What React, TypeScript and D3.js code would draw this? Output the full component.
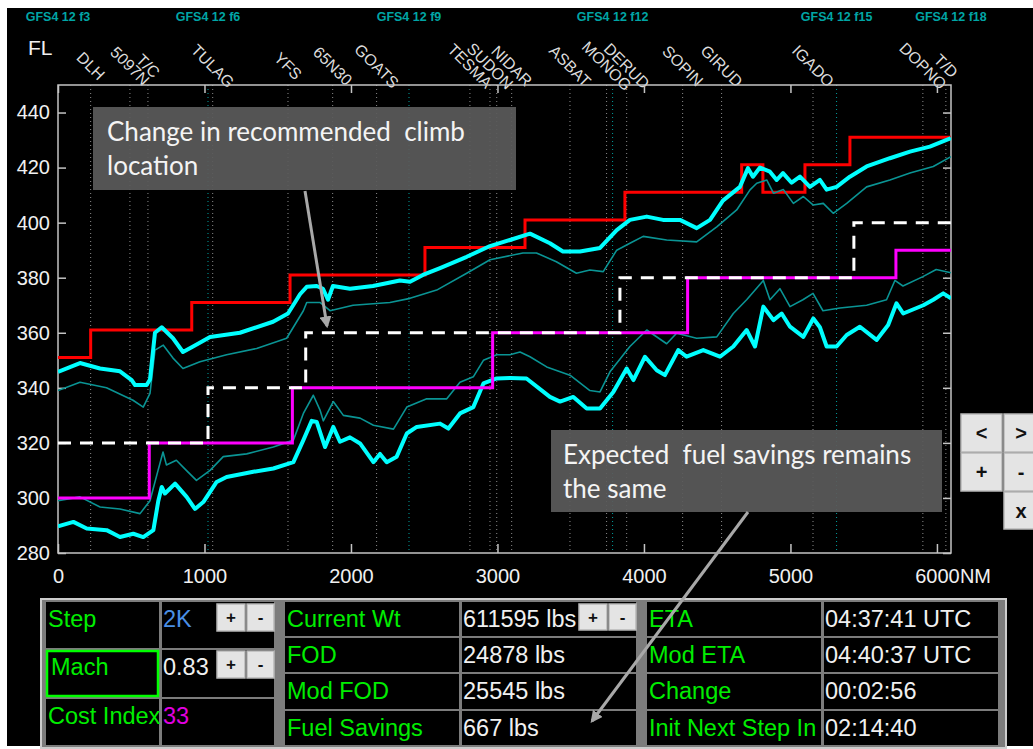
import React, { useEffect, useRef } from 'react';
import * as d3 from 'd3';

// distance along route (NM) / flight level pairs
const upperBand: [number, number][] = [
  [0, 345.8], [150, 349], [287, 347], [423, 346], [503, 342.8], [526, 341], [605, 341], [628, 343],
  [662, 360], [708, 362], [785, 358], [853, 353], [922, 355], [1038, 358.5], [1242, 360], [1468, 364],
  [1570, 367], [1629, 372], [1652, 374], [1698, 376.7], [1766, 377], [1809, 376], [1843, 372], [1877, 377],
  [1993, 376], [2150, 377], [2334, 379], [2403, 378.5], [2491, 381], [2608, 383.5], [2790, 387.6],
  [2949, 391.5], [3085, 393.7], [3222, 396], [3358, 392.5], [3447, 389.5], [3563, 389.5], [3700, 390.8],
  [3814, 397.3], [3904, 401], [4019, 402.2], [4130, 401], [4246, 401], [4360, 398], [4451, 401],
  [4539, 408], [4655, 413], [4710, 419.8], [4744, 416.7], [4792, 420], [4860, 418.5], [4906, 415.5],
  [4949, 418], [5008, 414.5], [5065, 416.7], [5133, 413], [5201, 415.5], [5247, 412], [5315, 413],
  [5406, 416.7], [5520, 420.4], [5679, 423.4], [5816, 425.8], [5952, 427.6], [6096, 430.7],
];

const upperThin: [number, number][] = [
  [0, 339], [150, 342], [331, 340], [512, 335.5], [582, 333], [628, 338], [662, 353.7], [719, 355.5],
  [785, 350.8], [853, 347], [969, 349.5], [1151, 352], [1356, 354.3], [1561, 358], [1675, 368],
  [1698, 371], [1788, 371], [1857, 368], [2014, 370], [2266, 371], [2403, 372.5], [2585, 375.5],
  [2790, 381.6], [2949, 386.5], [3174, 389], [3266, 389], [3402, 385.8], [3539, 381.6], [3631, 382.8],
  [3722, 382.2], [3814, 390], [3904, 392.5], [3995, 395], [4155, 393.7], [4360, 393], [4497, 398.5],
  [4633, 404.6], [4724, 411.9], [4770, 414.3], [4838, 415.5], [4884, 410.7], [4952, 412], [5020, 407],
  [5088, 409.5], [5156, 406.4], [5224, 407], [5292, 403.4], [5384, 407], [5520, 413], [5679, 415.5],
  [5816, 418], [5975, 420.4], [6096, 424],
];

const lowerThin: [number, number][] = [
  [0, 299], [150, 300.4], [287, 296.7], [423, 296], [560, 294.3], [628, 299], [683, 310], [717, 316.7],
  [740, 312], [808, 313.7], [876, 310], [945, 306.4], [1038, 310], [1128, 315], [1288, 316], [1470, 318.5],
  [1607, 321], [1675, 330.7], [1743, 337.3], [1788, 332], [1811, 328], [1879, 335], [1948, 330],
  [2062, 329], [2153, 326.4], [2290, 325], [2381, 333], [2517, 336], [2654, 336], [2744, 342],
  [2835, 344], [2904, 350], [2995, 352], [3085, 352], [3154, 353], [3222, 351.3], [3336, 347.6],
  [3495, 344.6], [3631, 339], [3700, 338.5], [3768, 345.8], [3904, 355], [4019, 361], [4155, 356],
  [4223, 359.8], [4360, 358], [4497, 358.5], [4610, 367], [4701, 372], [4815, 379], [4860, 372],
  [4928, 376], [4997, 369.5], [5085, 372], [5154, 374.3], [5222, 368], [5338, 369], [5520, 370],
  [5656, 372], [5713, 379], [5768, 377], [5904, 380.4], [5995, 383], [6096, 381.8],
];

const lowerBand: [number, number][] = [
  [0, 289.7], [105, 291.3], [196, 288.9], [332, 288.3], [423, 285.8], [514, 287], [582, 285.8],
  [651, 288.3], [685, 299], [708, 304], [730, 301.6], [799, 305.2], [878, 300.4], [935, 296],
  [992, 298.5], [1083, 305.8], [1151, 307.6], [1333, 309.5], [1470, 310.7], [1607, 313], [1675, 321],
  [1732, 328], [1766, 327.6], [1823, 318.5], [1879, 325.8], [1925, 320.4], [1993, 322], [2062, 319.8],
  [2153, 313], [2198, 316], [2244, 313], [2312, 315], [2381, 323.4], [2449, 325.8], [2608, 327],
  [2665, 325.2], [2744, 330.7], [2835, 333], [2904, 341.6], [2995, 343.4], [3085, 343.6], [3198, 343.4],
  [3358, 336.7], [3427, 335], [3518, 336.7], [3609, 332.5], [3700, 332.5], [3791, 338.5], [3882, 347],
  [3928, 342.8], [4007, 351.3], [4087, 346.4], [4143, 344.6], [4234, 353.7], [4291, 351.3], [4405, 353.7],
  [4519, 351.3], [4610, 355], [4701, 361], [4758, 355], [4815, 369.5], [4884, 364.6], [4940, 367],
  [4997, 362.2], [5088, 358.5], [5156, 365.2], [5201, 362], [5247, 355], [5315, 355], [5384, 359.2],
  [5474, 362.2], [5588, 357.4], [5667, 362.8], [5724, 370.7], [5770, 367], [5907, 370], [5975, 372],
  [6043, 374.3], [6096, 372.5],
];

const maxAltitude: [number, number][] = [
  [0, 351], [223, 361], [913, 371], [1584, 381], [2505, 391], [3188, 401], [3870, 411],
  [4667, 421], [4812, 411], [5099, 421], [5406, 431], [6096, 431],
];
const newProfile: [number, number][] = [
  [0, 320], [1024, 340], [1691, 360], [3836, 380], [5433, 400], [6096, 400],
];
const oldProfile: [number, number][] = [
  [0, 300], [623, 320], [1600, 340], [2967, 360], [4298, 380], [5720, 390], [6096, 390],
];

const waypointNames = ['DLH', '5097N', 'T/C', 'TULAG', 'YFS', '65N30', 'GOATS', 'TESMA', 'SUDON', '', 'NIDAR',
  'ASBAT', 'MONOG', 'DERUD', 'SOPIN', 'GIRUD', 'IGADO', 'DOPNO', 'T/D'];
const waypointNm = [223, 491, 614, 1056, 1570, 1875, 2175, 2812, 2949, 2995, 3097,
  3495, 3745, 3882, 4264, 4530, 5154, 5904, 6061];

const forecastLabels = ['GFS4 12 f3', 'GFS4 12 f6', 'GFS4 12 f9', 'GFS4 12 f12', 'GFS4 12 f15', 'GFS4 12 f18'];
const forecastNm = [0, 1024, 2396, 3786, 5315, 6096];

const xTicks = [0, 1000, 2000, 3000, 4000, 5000, 6000];
const yTicks = [280, 300, 320, 340, 360, 380, 400, 420, 440];

const stepLabels = ['Step', 'Mach', 'Cost Index'];
const stepValues = ['2K', '0.83', '33'];
const stepColors = ['#4a8fe6', '#f0f0f0', '#e000e0'];
const fuelLabels = ['Current Wt', 'FOD', 'Mod FOD', 'Fuel Savings'];
const fuelValues = ['611595 lbs', '24878 lbs', '25545 lbs', '667 lbs'];
const timeLabels = ['ETA', 'Mod ETA', 'Change', 'Init Next Step In'];
const timeValues = ['04:37:41 UTC', '04:40:37 UTC', '00:02:56', '02:14:40'];

const SANS = '"Liberation Sans", Arial, sans-serif';
const GREEN = '#00ee00';

export default function App() {
  const ref = useRef<SVGSVGElement>(null);

  useEffect(() => {
    const svg = d3.select(ref.current);
    svg.selectAll('*').remove();

    const x = d3.scaleLinear().domain([0, 6096]).range([58, 951]);
    const y = d3.scaleLinear().domain([280, 450]).range([553, 85]);

    svg.append('rect').attr('width', 1033).attr('height', 749).attr('fill', '#fff');
    svg.append('rect').attr('x', 7).attr('y', 8).attr('width', 1026).attr('height', 738).attr('fill', '#000');

    const defs = svg.append('defs');
    defs.append('clipPath').attr('id', 'plot')
      .append('rect').attr('x', 58).attr('y', 85).attr('width', 893).attr('height', 468);
    defs.append('marker').attr('id', 'arrow').attr('viewBox', '0 0 10 10')
      .attr('refX', 8).attr('refY', 5).attr('markerWidth', 4).attr('markerHeight', 4)
      .attr('orient', 'auto')
      .append('path').attr('d', 'M0,0L10,5L0,10z').attr('fill', '#a8a8a8');

    // forecast labels
    svg.append('g').selectAll('text').data(forecastLabels).join('text')
      .attr('x', (d, i) => x(forecastNm[i]))
      .attr('y', 21)
      .attr('text-anchor', 'middle')
      .attr('font-family', SANS).attr('font-size', 12.5).attr('font-weight', 'bold')
      .attr('fill', '#00a5a5')
      .text(d => d);

    svg.append('text').attr('x', 28).attr('y', 55).attr('font-family', SANS)
      .attr('font-size', 21).attr('fill', '#f0f0f0').text('FL');

    // waypoint grid
    const grid = svg.append('g');
    grid.selectAll('line.wp').data(waypointNm).join('line')
      .attr('x1', d => x(d)).attr('x2', d => x(d)).attr('y1', 85).attr('y2', 553)
      .attr('stroke', '#8c8c8c').attr('stroke-width', 1).attr('stroke-dasharray', '1,3');
    grid.selectAll('line.fc').data(forecastNm.slice(1, -1)).join('line')
      .attr('x1', d => x(d)).attr('x2', d => x(d)).attr('y1', 85).attr('y2', 553)
      .attr('stroke', '#00a0a0').attr('stroke-width', 1).attr('stroke-dasharray', '1,3');

    svg.append('g').selectAll('text').data(waypointNames).join('text')
      .attr('transform', (d, i) => `translate(${x(waypointNm[i])},66) rotate(45)`)
      .attr('text-anchor', 'middle').attr('dominant-baseline', 'central')
      .attr('font-family', SANS).attr('font-size', 16).attr('fill', '#dcdcdc')
      .text(d => d);

    // axes
    const axisColor = '#c4c4c4';
    const styleAxis = (g: any) => {
      g.select('.domain').remove();
      g.selectAll('line').attr('stroke', axisColor).attr('stroke-width', 1.5);
      g.selectAll('text').attr('fill', '#f0f0f0').attr('font-size', 20).attr('font-family', SANS);
      g.attr('font-family', SANS);
    };
    svg.append('g').attr('transform', 'translate(0,553)')
      .call(d3.axisBottom(x).tickValues(xTicks).tickSize(-9).tickPadding(16).tickFormat(d3.format('d')))
      .call(styleAxis);
    svg.append('g').attr('transform', 'translate(0,85)')
      .call(d3.axisTop(x).tickValues(xTicks).tickSize(-8).tickFormat(() => '')).call(styleAxis);
    svg.append('g').attr('transform', 'translate(58,0)')
      .call(d3.axisLeft(y).tickValues(yTicks).tickSize(-8).tickPadding(8)).call(styleAxis);
    svg.append('g').attr('transform', 'translate(951,0)')
      .call(d3.axisRight(y).tickValues(yTicks).tickSize(-8).tickFormat(() => '')).call(styleAxis);
    svg.append('rect').attr('x', 58).attr('y', 85).attr('width', 893).attr('height', 468)
      .attr('fill', 'none').attr('stroke', axisColor).attr('stroke-width', 1.5);
    svg.append('text').attr('x', x(6000) + 23).attr('y', 583).attr('font-family', SANS)
      .attr('font-size', 20).attr('fill', '#f0f0f0').text('NM');

    // series
    const plot = svg.append('g').attr('clip-path', 'url(#plot)');
    const smooth = d3.line<[number, number]>().x(d => x(d[0])).y(d => y(d[1]));
    const step = d3.line<[number, number]>().x(d => x(d[0])).y(d => y(d[1])).curve(d3.curveStepAfter);

    plot.append('path').datum(maxAltitude).attr('d', step).attr('fill', 'none')
      .attr('stroke', '#ff0000').attr('stroke-width', 3);
    [upperThin, lowerThin].forEach(s => {
      plot.append('path').datum(s).attr('d', smooth).attr('fill', 'none')
        .attr('stroke', '#0a9494').attr('stroke-width', 1.6).attr('stroke-linejoin', 'round');
    });
    [upperBand, lowerBand].forEach(s => {
      plot.append('path').datum(s).attr('d', smooth).attr('fill', 'none')
        .attr('stroke', '#00ffff').attr('stroke-width', 4).attr('stroke-linejoin', 'round');
    });
    plot.append('path').datum(oldProfile).attr('d', step).attr('fill', 'none')
      .attr('stroke', '#ff00ff').attr('stroke-width', 3);
    plot.append('path').datum(newProfile).attr('d', step).attr('fill', 'none')
      .attr('stroke', '#ffffff').attr('stroke-width', 3).attr('stroke-dasharray', '13,9');

    // annotations
    const note = (bx: number, by: number, bw: number, bh: number, lines: string[], tx: number, ty: number) => {
      svg.append('rect').attr('x', bx).attr('y', by).attr('width', bw).attr('height', bh)
        .attr('fill', '#5a5a5a').attr('opacity', 0.93);
      lines.forEach((t, i) => {
        svg.append('text').attr('x', tx).attr('y', ty + i * 34)
          .attr('font-family', 'Lato, "Open Sans", sans-serif').attr('font-size', 26)
          .attr('fill', '#f4f4f4').style('white-space', 'pre').text(t);
      });
    };
    note(93, 107, 423, 83, ['Change in recommended  climb', 'location'], 107, 141);
    note(551, 430, 391, 82, ['Expected  fuel savings remains', 'the same'], 563, 464);

    const arrow = (x1: number, y1: number, x2: number, y2: number) => {
      svg.append('line').attr('x1', x1).attr('y1', y1).attr('x2', x2).attr('y2', y2)
        .attr('stroke', '#a8a8a8').attr('stroke-width', 3).attr('marker-end', 'url(#arrow)');
    };
    arrow(305, 191, 327, 326);

    // side buttons
    const button = (bx: number, by: number, bw: number, bh: number, label: string, size: number) => {
      svg.append('rect').attr('x', bx).attr('y', by).attr('width', bw).attr('height', bh)
        .attr('fill', '#e4e4e4').attr('stroke', '#b8b8b8').attr('stroke-width', 1.5);
      svg.append('text').attr('x', bx + bw / 2).attr('y', by + bh / 2)
        .attr('text-anchor', 'middle').attr('dominant-baseline', 'central')
        .attr('font-family', SANS).attr('font-weight', 'bold').attr('font-size', size)
        .attr('fill', '#111').text(label);
    };
    button(961, 414, 41, 38, '<', 20);
    button(1004, 414, 34, 38, '>', 20);
    button(961, 453, 41, 38, '+', 20);
    button(1004, 453, 34, 38, '-', 20);
    button(1004, 492, 34, 37, 'x', 20);

    // bottom table
    svg.append('rect').attr('x', 41).attr('y', 599).attr('width', 965).attr('height', 149)
      .attr('fill', '#7c7c7c').attr('stroke', '#cdcdcd').attr('stroke-width', 2);

    const cell = (cx: number, cy: number, cw: number, ch: number) => {
      svg.append('rect').attr('x', cx).attr('y', cy).attr('width', cw).attr('height', ch).attr('fill', '#000');
    };
    const txt = (tx: number, ty: number, t: string, color: string) => {
      svg.append('text').attr('x', tx).attr('y', ty).attr('font-family', SANS)
        .attr('font-size', 23.5).attr('fill', color).text(t);
    };

    const rows1 = [[602, 648], [650, 697], [699, 745]];
    rows1.forEach(([r0, r1], i) => {
      cell(46, r0, 113, r1 - r0);
      cell(162, r0, 112, r1 - r0);
      txt(i === 1 ? 51 : 48, r0 + 25, stepLabels[i], GREEN);
      txt(163, r0 + 25, stepValues[i], stepColors[i]);
    });
    svg.append('rect').attr('x', 47).attr('y', 651).attr('width', 111).attr('height', 45)
      .attr('fill', 'none').attr('stroke', '#00ff00').attr('stroke-width', 2.5);

    const rows2 = [[602, 636], [638, 672], [674, 709], [711, 745]];
    rows2.forEach(([r0, r1], i) => {
      cell(285, r0, 174, r1 - r0);
      cell(462, r0, 174, r1 - r0);
      cell(647, r0, 174, r1 - r0);
      cell(824, r0, 174, r1 - r0);
      txt(287, r0 + 25, fuelLabels[i], GREEN);
      txt(463, r0 + 25, fuelValues[i], '#f0f0f0');
      txt(649, r0 + 25, timeLabels[i], GREEN);
      txt(825, r0 + 25, timeValues[i], '#f0f0f0');
    });

    button(217, 604, 28, 27, '+', 17);
    button(247, 604, 27, 27, '-', 17);
    button(217, 651, 28, 27, '+', 17);
    button(247, 651, 27, 27, '-', 17);
    button(579, 604, 28, 26, '+', 17);
    button(609, 604, 27, 26, '-', 17);

    arrow(748, 512, 592, 721);
  }, []);

  return (
    <svg ref={ref} width={1033} height={749}
      style={{ position: 'fixed', left: 0, top: 0, display: 'block' }} />
  );
}
